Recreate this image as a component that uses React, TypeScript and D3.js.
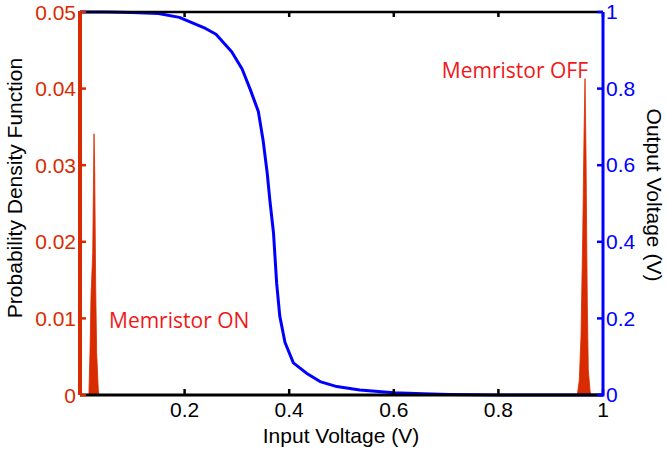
import React from "react";
import * as d3 from "d3";

// Output voltage transfer curve (Input V -> Output V)
const curveX = [0, 0.05, 0.1, 0.15, 0.19, 0.24, 0.26, 0.29, 0.31, 0.326, 0.341, 0.35, 0.358, 0.363, 0.37, 0.376, 0.382, 0.392, 0.408, 0.433, 0.459, 0.491, 0.535, 0.6, 0.656, 0.707, 0.8, 1];
const curveY = [1, 1, 0.999, 0.996, 0.986, 0.957, 0.942, 0.896, 0.851, 0.796, 0.74, 0.666, 0.579, 0.509, 0.423, 0.292, 0.206, 0.137, 0.084, 0.057, 0.035, 0.022, 0.013, 0.006, 0.003, 0.001, 0, 0];

// PDF spikes
const onX = [0.0172, 0.0172, 0.0191, 0.021, 0.0243, 0.0268, 0.0281, 0.03, 0.0319, 0.035, 0.0363];
const onPdf = [0, 0.00065, 0.0055, 0.0128, 0.0185, 0.0341, 0.0294, 0.0141, 0.0055, 0.00065, 0];
const offX = [0.9509, 0.9547, 0.9579, 0.9612, 0.9637, 0.9656, 0.9675, 0.9688, 0.97, 0.9719, 0.9751, 0.9765];
const offPdf = [0, 0.00196, 0.0076, 0.0207, 0.0337, 0.0413, 0.0316, 0.0207, 0.012, 0.0033, 0.00065, 0];

const xTicks = [0.2, 0.4, 0.6, 0.8, 1];
const xTickLabels = ["0.2", "0.4", "0.6", "0.8", "1"];
const leftTicks = [0, 0.01, 0.02, 0.03, 0.04, 0.05];
const leftTickLabels = ["0", "0.01", "0.02", "0.03", "0.04", "0.05"];
const rightTicks = [0, 0.2, 0.4, 0.6, 0.8, 1];
const rightTickLabels = ["0", "0.2", "0.4", "0.6", "0.8", "1"];

const W = 667, H = 456;
const L = 80, R = 603, T = 12, B = 395;
const RED = "#d92b00";
const BLUE = "#0000ff";
const FONT = "'Liberation Sans', Arial, sans-serif";

export default function App() {
  const x = d3.scaleLinear().domain([0, 1]).range([L, R]);
  const yL = d3.scaleLinear().domain([0, 0.05]).range([B, T]);
  const yR = d3.scaleLinear().domain([0, 1]).range([B, T]);

  const area = d3.area<[number, number]>().x(d => x(d[0])).y0(yL(0)).y1(d => yL(d[1]));
  const line = d3.line<[number, number]>().x(d => x(d[0])).y(d => yR(d[1]));

  const onPts = onX.map((v, i) => [v, onPdf[i]] as [number, number]);
  const offPts = offX.map((v, i) => [v, offPdf[i]] as [number, number]);
  const cPts = curveX.map((v, i) => [v, curveY[i]] as [number, number]);

  return (
    <svg width={W} height={H} style={{ position: "absolute", left: 0, top: 0, background: "#fff" }} fontFamily={FONT}>
      <rect width={W} height={H} fill="#fff" />
      <path d={area(onPts) || ""} fill={RED} stroke={RED} strokeWidth={0.8} />
      <path d={area(offPts) || ""} fill={RED} stroke={RED} strokeWidth={0.8} />
      <path d={line(cPts) || ""} fill="none" stroke={BLUE} strokeWidth={3} strokeLinejoin="round" />

      {/* top & bottom axes */}
      <line x1={L} x2={R} y1={T} y2={T} stroke="#000" strokeWidth={2.5} />
      <line x1={L} x2={R} y1={B} y2={B} stroke="#000" strokeWidth={3} />
      {xTicks.map((t, i) => (
        <g key={"xt" + i}>
          <line x1={x(t)} x2={x(t)} y1={B} y2={B - 6} stroke="#000" strokeWidth={2.5} />
          <line x1={x(t)} x2={x(t)} y1={T} y2={T + 5} stroke="#000" strokeWidth={2.5} />
          <text x={x(t)} y={417} fontSize={21} textAnchor="middle" fill="#000">{xTickLabels[i]}</text>
        </g>
      ))}

      {/* left axis */}
      <line x1={L} x2={L} y1={T - 1} y2={B} stroke={RED} strokeWidth={4} />
      {leftTicks.map((t, i) => (
        <g key={"lt" + i}>
          <line x1={L} x2={L + 6} y1={yL(t)} y2={yL(t)} stroke={RED} strokeWidth={2.5} />
          <text x={76} y={yL(t)} dy="0.36em" fontSize={21} textAnchor="end" fill={RED}>{leftTickLabels[i]}</text>
        </g>
      ))}

      {/* right axis */}
      <line x1={R} x2={R} y1={T} y2={B + 1.5} stroke={BLUE} strokeWidth={3} />
      {rightTicks.map((t, i) => (
        <g key={"rt" + i}>
          <line x1={R} x2={R - 6} y1={yR(t)} y2={yR(t)} stroke={BLUE} strokeWidth={2.5} />
          <text x={606} y={yR(t)} dy="0.34em" fontSize={21} textAnchor="start" fill={BLUE}>{rightTickLabels[i]}</text>
        </g>
      ))}

      {/* axis labels */}
      <text x={341} y={443} fontSize={21} textAnchor="middle" fill="#000">Input Voltage (V)</text>
      <text transform="translate(22,188) rotate(-90)" fontSize={21} textAnchor="middle" fill="#000">Probability Density Function</text>
      <text transform="translate(647,195) rotate(90)" fontSize={21} textAnchor="middle" fill="#000">Output Voltage (V)</text>

      {/* annotations */}
      <text x={109} y={328} fontSize={21} fill="#f01818" fontFamily="'Open Sans', sans-serif">Memristor ON</text>
      <text x={588} y={78} fontSize={21} fill="#f01818" textAnchor="end" fontFamily="'Open Sans', sans-serif">Memristor OFF</text>
    </svg>
  );
}
